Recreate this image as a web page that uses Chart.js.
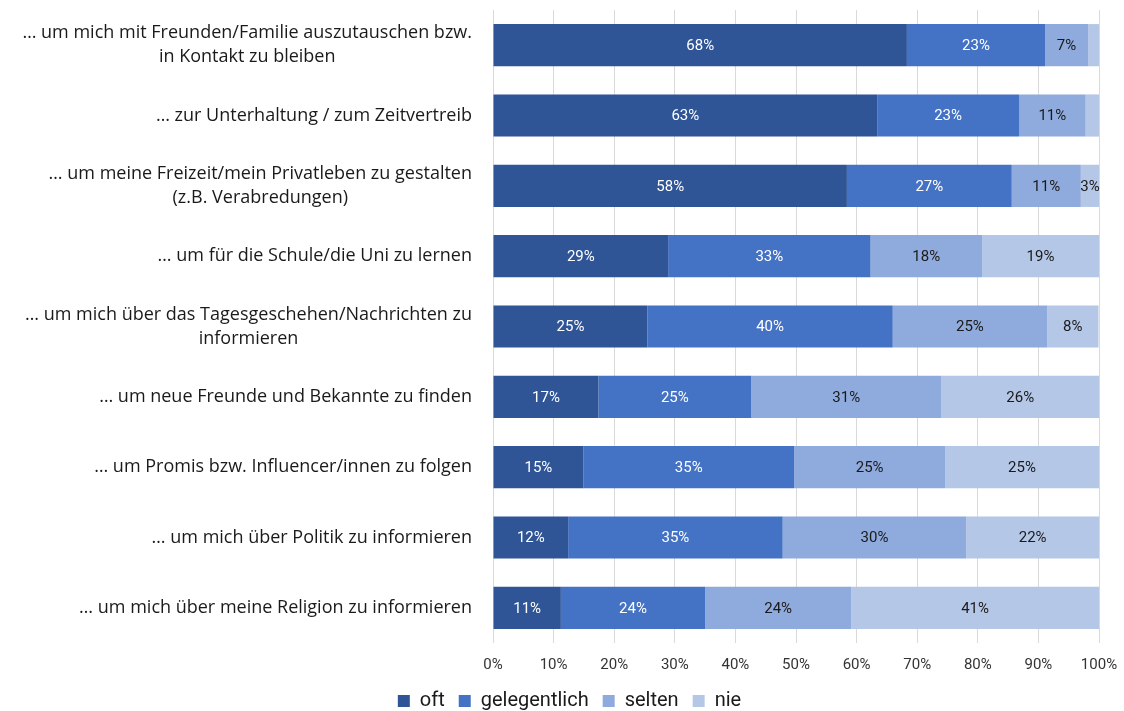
<!DOCTYPE html>
<html><head><meta charset="utf-8">
<script src="https://cdn.jsdelivr.net/npm/chart.js@4"></script>
<style>html,body{margin:0;padding:0;background:#fff}#wrap{width:1124px;height:711px}</style>
</head><body><div id="wrap"><canvas id="c" width="1124" height="711"></canvas></div>
<script>
const categories = [
  ["… um mich mit Freunden/Familie auszutauschen bzw.", "in Kontakt zu bleiben"],
  ["… zur Unterhaltung / zum Zeitvertreib"],
  ["… um meine Freizeit/mein Privatleben zu gestalten", "(z.B. Verabredungen)"],
  ["… um für die Schule/die Uni zu lernen"],
  ["… um mich über das Tagesgeschehen/Nachrichten zu", "informieren"],
  ["… um neue Freunde und Bekannte zu finden"],
  ["… um Promis bzw. Influencer/innen zu folgen"],
  ["… um mich über Politik zu informieren"],
  ["… um mich über meine Religion zu informieren"]
];
const seriesNames = ["oft", "gelegentlich", "selten", "nie"];
const oft          = [68.3, 63.4, 58.4, 28.9, 25.48, 17.4, 14.9, 12.4, 11.2];
const gelegentlich = [22.8, 23.4, 27.2, 33.4, 40.48, 25.2, 34.8, 35.4, 23.8];
const selten       = [7.1, 11.0, 11.4, 18.4, 25.48, 31.4, 24.9, 30.3, 24.1];
const nie          = [1.8, 2.2, 3.0, 19.3, 8.48, 26.0, 25.4, 21.9, 40.9];
const xTicks = [0,10,20,30,40,50,60,70,80,90,100];

const colors = ["#2F5597", "#4472C4", "#8FAADC", "#B4C7E7"];
const labelColors = ["#ffffff", "#ffffff", "#1a1a1a", "#1a1a1a"];
const LABEL_FONT = "'Liberation Sans Narrow', 'Roboto', sans-serif";
const CAT_FONT = "'Open Sans', sans-serif";

const dataLabelPlugin = {
  id: 'dl',
  afterDatasetsDraw(chart) {
    const ctx = chart.ctx;
    ctx.save();
    ctx.font = "15px " + LABEL_FONT;
    ctx.textAlign = 'center';
    ctx.textBaseline = 'middle';
    chart.data.datasets.forEach((ds, di) => {
      const meta = chart.getDatasetMeta(di);
      meta.data.forEach((bar, i) => {
        const v = ds.data[i];
        if (v < 2.5) return;
        const cx = (bar.x + bar.base) / 2;
        ctx.fillStyle = labelColors[di];
        ctx.fillText(Math.round(v) + '%', cx, bar.y + 1);
      });
    });
    ctx.restore();
  }
};

const catLabelPlugin = {
  id: 'cats',
  afterDraw(chart) {
    const ctx = chart.ctx;
    const ys = chart.scales.y;
    const right = chart.chartArea.left - 21;
    ctx.save();
    ctx.font = "18px " + CAT_FONT;
    ctx.fillStyle = "#1a1a1a";
    ctx.textAlign = 'center';
    ctx.textBaseline = 'middle';
    const lh = 24;
    categories.forEach((lines, i) => {
      const y = ys.getPixelForValue(i);
      const maxW = Math.max(...lines.map(l => ctx.measureText(l).width));
      const cx = right - maxW / 2;
      const y0 = y - (lines.length - 1) * lh / 2;
      lines.forEach((l, k) => ctx.fillText(l, cx, y0 + k * lh));
    });
    ctx.restore();
  }
};

const seriesData = [oft, gelegentlich, selten, nie];
new Chart(document.getElementById('c'), {
  type: 'bar',
  data: {
    labels: categories.map(c => c.join(' ')),
    datasets: seriesNames.map((n, i) => ({
      label: n, data: seriesData[i], backgroundColor: colors[i],
      borderWidth: 0, barPercentage: 0.6, categoryPercentage: 1.0
    }))
  },
  options: {
    indexAxis: 'y',
    responsive: false,
    animation: false,
    devicePixelRatio: 1,
    layout: { padding: { top: 10, right: 25, left: 40, bottom: -10 } },
    scales: {
      x: {
        stacked: true, min: 0, max: 100,
        afterBuildTicks: s => { s.ticks = xTicks.map(v => ({ value: v })); },
        afterFit: s => { s.height = s.height - 10; s.paddingRight = 0; s.paddingLeft = 0; },
        ticks: { callback: v => v + '%', font: { size: 15, family: LABEL_FONT }, color: '#333', padding: 13, maxRotation: 0 },
        grid: { color: '#d9d9d9', lineWidth: 1, tickLength: 0, drawTicks: false },
        border: { display: false }
      },
      y: {
        stacked: true,
        afterFit: s => { s.width = 453; },
        ticks: { display: false },
        grid: { display: false },
        border: { display: false }
      }
    },
    plugins: {
      legend: {
        position: 'bottom',
        labels: { boxWidth: 12, boxHeight: 12, font: { size: 20, family: LABEL_FONT }, color: '#1a1a1a', padding: 14 }
      },
      tooltip: { enabled: false }
    }
  },
  plugins: [dataLabelPlugin, catLabelPlugin]
});
</script>
</body></html>
